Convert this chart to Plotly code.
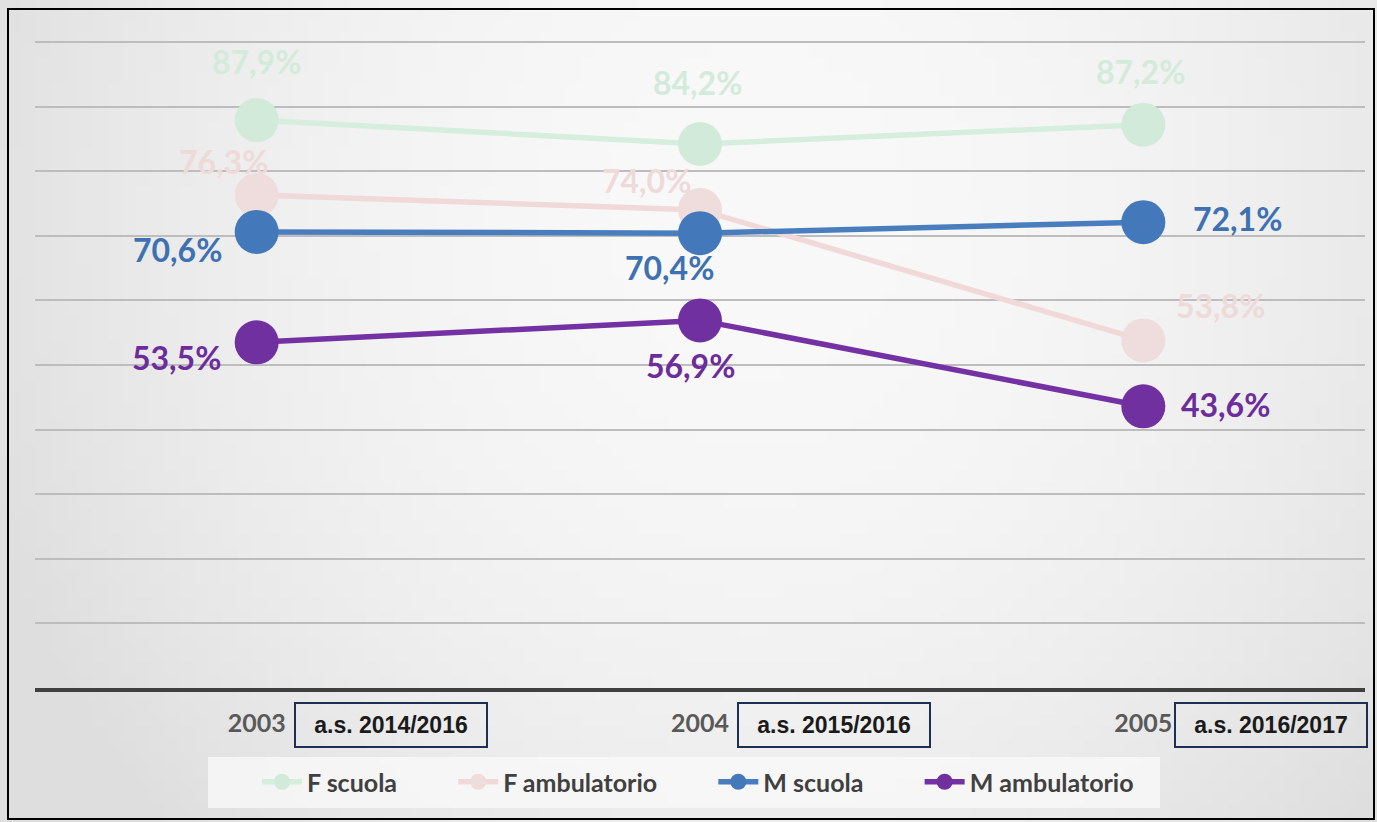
import zlib, struct, base64
import numpy as np
import plotly.graph_objects as go

# ---------------- data ----------------
years = ["2003", "2004", "2005"]
school_years = ["a.s. 2014/2016", "a.s. 2015/2016", "a.s. 2016/2017"]
f_scuola = [87.9, 84.2, 87.2]
f_ambulatorio = [76.3, 74.0, 53.8]
m_scuola = [70.6, 70.4, 72.1]
m_ambulatorio = [53.5, 56.9, 43.6]
series_names = ["F scuola", "F ambulatorio", "M scuola", "M ambulatorio"]

# ---------------- style ----------------
W, H = 1377, 822
ML, MR, MT, MB = 35, 12, 40, 134
PW, PH = W - ML - MR, H - MT - MB

styles = {
    "F scuola": dict(line="#d6eedd", marker="#d2eada", text="#d3ebdb"),
    "F ambulatorio": dict(line="#f1d9d9", marker="#efdddd", text="#efdada"),
    "M scuola": dict(line="#4a7dbe", marker="#4379bb", text="#3d71b2"),
    "M ambulatorio": dict(line="#7431a3", marker="#7030a0", text="#6c2c9c"),
}
# label offsets (px) relative to each point: (xshift, yshift)
label_offsets = {
    "F scuola": [(0, 59), (-3, 62), (-3, 53)],
    "F ambulatorio": [(-33, 34), (-54, 29), (77, 35)],
    "M scuola": [(-79, -18), (-31, -34), (94, 4)],
    "M ambulatorio": [(-80, -15), (-10, -45), (82, 2)],
}
box_xshift = [134, 134, 128]
legend_pad = "\u00a0" * 8
values = {
    "F scuola": f_scuola,
    "F ambulatorio": f_ambulatorio,
    "M scuola": m_scuola,
    "M ambulatorio": m_ambulatorio,
}
FONT = "Lato"


def px_to_paper_x(px):
    return (px - ML) / PW


def px_to_paper_y(py):
    return (H - MB - py) / PH


def gradient_png(w=96, h=64):
    xs = np.linspace(0, 1, w)
    ys = np.linspace(0, 1, h)
    X, Y = np.meshgrid(xs, ys)
    r2 = ((X - 0.55) / 0.6) ** 2 + ((Y - 0.25) / 1.1) ** 2
    v = np.clip(249 - 26 * r2, 222, 250).astype(np.uint8)
    raw = b"".join(b"\x00" + bytes(np.repeat(row, 3)) for row in v)

    def chunk(tag, data):
        c = struct.pack(">I", len(data)) + tag + data
        return c + struct.pack(">I", zlib.crc32(tag + data) & 0xFFFFFFFF)

    png = b"\x89PNG\r\n\x1a\n"
    png += chunk(b"IHDR", struct.pack(">IIBBBBB", w, h, 8, 2, 0, 0, 0))
    png += chunk(b"IDAT", zlib.compress(raw, 9))
    png += chunk(b"IEND", b"")
    return "data:image/png;base64," + base64.b64encode(png).decode()


fig = go.Figure()

for k, name in enumerate(series_names):
    st = styles[name]
    label = "<b>" + name + "</b>" + (legend_pad if k < len(series_names) - 1 else "")
    fig.add_trace(go.Scatter(
        x=years, y=values[name], name=label, mode="lines+markers",
        line=dict(color=st["line"], width=5.5),
        marker=dict(color=st["marker"], size=44),
        hoverinfo="skip",
    ))

for name in series_names:
    st = styles[name]
    for i, (yr, v) in enumerate(zip(years, values[name])):
        dx, dy = label_offsets[name][i]
        fig.add_annotation(
            x=i, y=v, xref="x", yref="y",
            text="<b>" + f"{v:.1f}".replace(".", ",") + "%</b>",
            showarrow=False, xshift=dx, yshift=dy,
            font=dict(family=FONT, size=32, color=st["text"]),
        )

for i, sy in enumerate(school_years):
    fig.add_annotation(
        x=i, y=px_to_paper_y(725), xref="x", yref="paper",
        xanchor="center", yanchor="middle",
        text="<b>" + sy + "</b>", showarrow=False, xshift=box_xshift[i],
        width=186, height=38, borderpad=2,
        bordercolor="#1f2f52", borderwidth=2,
        font=dict(family="Liberation Sans", size=23, color="#1a1a1a"),
    )

fig.add_shape(type="rect", xref="paper", yref="paper",
              x0=px_to_paper_x(8), x1=px_to_paper_x(1374),
              y0=px_to_paper_y(819), y1=px_to_paper_y(9),
              line=dict(color="#000000", width=2), fillcolor="rgba(0,0,0,0)", layer="above")
fig.add_shape(type="rect", xref="paper", yref="paper",
              x0=px_to_paper_x(208), x1=px_to_paper_x(1160),
              y0=px_to_paper_y(808), y1=px_to_paper_y(757),
              line=dict(width=0), fillcolor="rgba(250,250,250,0.75)", layer="below")

fig.update_layout(
    width=W, height=H,
    margin=dict(l=ML, r=MR, t=MT, b=MB),
    paper_bgcolor="#efefef",
    plot_bgcolor="rgba(0,0,0,0)",
    images=[dict(
        source=gradient_png(), xref="paper", yref="paper",
        x=px_to_paper_x(0), y=px_to_paper_y(0),
        sizex=W / PW, sizey=H / PH, sizing="stretch",
        xanchor="left", yanchor="top", layer="below",
    )],
    xaxis=dict(
        type="category", showgrid=False, zeroline=False,
        showline=True, linecolor="#404040", linewidth=4,
        ticks="", ticklabelstandoff=10,
        tickfont=dict(family=FONT, size=25, color="#595959"),
        tickprefix="<b>", ticksuffix="</b>",
        range=[-0.5, 2.5],
    ),
    yaxis=dict(
        range=[0, 100.3], tickvals=[10, 20, 30, 40, 50, 60, 70, 80, 90, 100],
        showticklabels=False,
        showgrid=True, gridcolor="#bdbdbd", gridwidth=1.5,
        zeroline=False, showline=False, ticks="",
    ),
    showlegend=True,
    legend=dict(
        orientation="h", x=px_to_paper_x(257), xanchor="left",
        y=px_to_paper_y(759), yanchor="top",
        bgcolor="rgba(0,0,0,0)",
        font=dict(family=FONT, size=25, color="#404040"),
        itemwidth=40, tracegroupgap=0,
    ),
)

fig.write_html("out.html", config={"displayModeBar": False},
               post_script="document.body.style.margin='0';")
